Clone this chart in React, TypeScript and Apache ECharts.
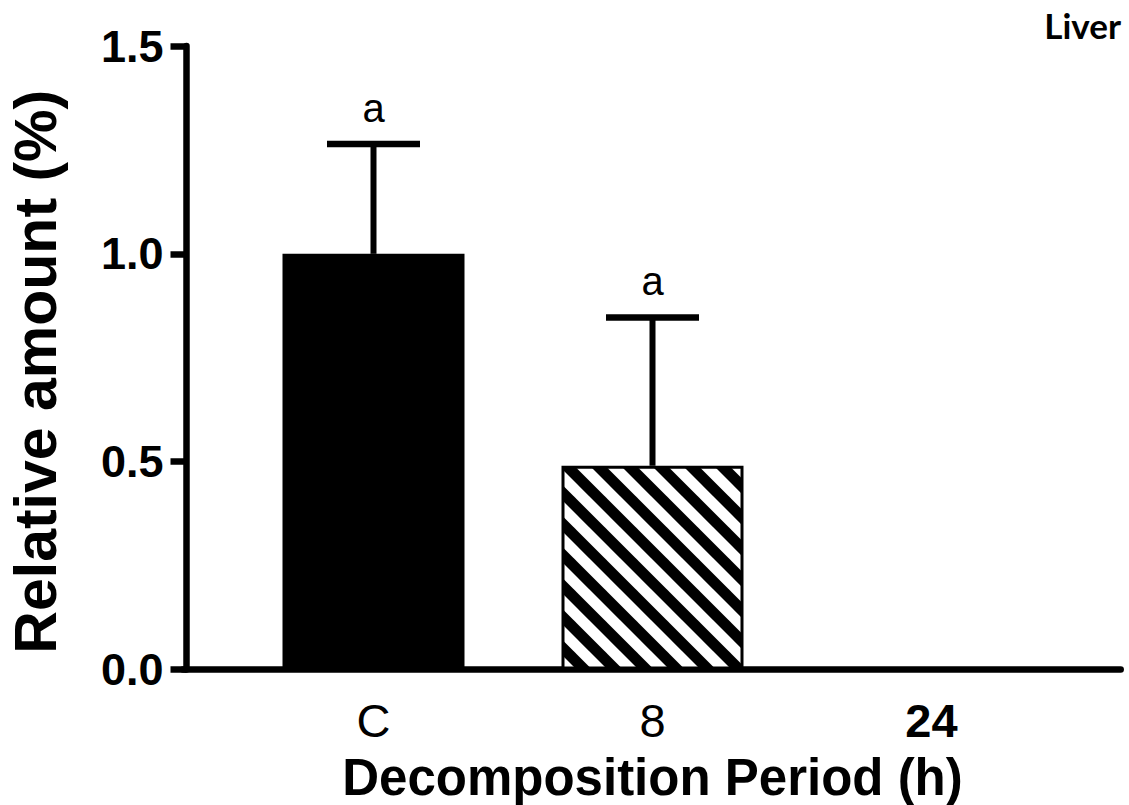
import React, { useEffect, useRef } from 'react';
import * as echarts from 'echarts';

// ---- data ----
const categories = ['C', '8', '24'];
const meanValues = [1.0, 0.49, 0];
const sdValues = [0.264, 0.357, 0];
const sigLetters = ['a', 'a', ''];
const yMin = 0;
const yMax = 1.5;
const yInterval = 0.5;

const FONT = 'Liberation Sans, Arial, sans-serif';

function makeHatch(): string {
  const T = 31;
  const c = document.createElement('canvas');
  c.width = T;
  c.height = T;
  const ctx = c.getContext('2d');
  if (!ctx) return '#000';
  ctx.fillStyle = '#000';
  ctx.fillRect(0, 0, T, T);
  ctx.strokeStyle = '#fff';
  ctx.lineWidth = 10.9;
  for (const off of [23.25 - T, 23.25, 23.25 + T]) {
    ctx.beginPath();
    ctx.moveTo(off - 12, -12);
    ctx.lineTo(off + T + 12, T + 12);
    ctx.stroke();
  }
  return c.toDataURL();
}

export default function App() {
  const ref = useRef<HTMLDivElement>(null);

  useEffect(() => {
    if (!ref.current) return;
    const chart = echarts.init(ref.current, null, { renderer: 'svg' });
    const hatch = makeHatch();
    const hatchColor: any = {
      image: hatch,
      repeat: 'repeat',
      imageWidth: 31,
      imageHeight: 31,
    };

    const barData = meanValues.map((v, i) => ({
      value: v,
      itemStyle: {
        color: i === 1 ? hatchColor : '#000',
        borderColor: '#000',
        borderWidth: v === 0 ? 0 : 3,
      },
    }));

    const errData = categories.map((c, i) => [i, meanValues[i], sdValues[i]]);

    const option: any = {
      animation: false,
      backgroundColor: '#fff',
      title: {
        text: 'Liver',
        right: 8,
        top: 7,
        padding: 0,
        textStyle: {
          fontFamily: 'Lato, Open Sans, sans-serif',
          fontWeight: 'bold',
          fontSize: 35,
          color: '#000',
        },
      },
      grid: [
        {
          left: 234,
          width: 837,
          top: 46,
          bottom: 135.5,
          containLabel: false,
          outerBoundsMode: 'none',
        },
        {
          left: 183,
          right: 8.3,
          top: 46,
          bottom: 135.5,
          containLabel: false,
          outerBoundsMode: 'none',
        },
      ],
      xAxis: [
        {
          type: 'category',
          gridIndex: 0,
          data: categories,
          axisLine: { show: false },
          axisTick: { show: false },
          splitLine: { show: false },
          axisLabel: {
            margin: 27,
            interval: 0,
            formatter: (v: string) => (v === '24' ? '{b|' + v + '}' : '{n|' + v + '}'),
            rich: {
              n: { fontFamily: FONT, fontSize: 47, fontWeight: 'normal', color: '#000' },
              b: { fontFamily: FONT, fontSize: 47, fontWeight: 'bold', color: '#000' },
            },
          },
          name: 'Decomposition Period (h)',
          nameLocation: 'middle',
          nameGap: 82,
          nameTextStyle: {
            fontFamily: FONT,
            fontSize: 51,
            fontWeight: 'bold',
            color: '#000',
          },
        },
        {
          type: 'value',
          gridIndex: 1,
          min: 0,
          max: 1,
          axisLine: { show: true, onZero: false, lineStyle: { color: '#000', width: 6.5 } },
          axisTick: { show: false },
          axisLabel: { show: false },
          splitLine: { show: false },
        },
      ],
      yAxis: [
        {
          type: 'value',
          gridIndex: 0,
          min: yMin,
          max: yMax,
          interval: yInterval,
          offset: 47.5,
          axisLine: { show: true, lineStyle: { color: '#000', width: 6.5 } },
          axisTick: { show: true, length: 16, lineStyle: { color: '#000', width: 6.5 } },
          splitLine: { show: false },
          axisLabel: {
            margin: 23,
            fontFamily: FONT,
            fontSize: 45,
            fontWeight: 'bold',
            color: '#000',
            formatter: (v: number) => v.toFixed(1),
          },
          name: 'Relative amount (%)',
          nameLocation: 'middle',
          nameGap: 121,
          nameMoveOverlap: false,
          nameTextStyle: {
            fontFamily: FONT,
            fontSize: 59,
            fontWeight: 'bold',
            color: '#000',
            padding: [0, 28, 0, 0],
          },
        },
        {
          type: 'value',
          gridIndex: 1,
          min: yMin,
          max: yMax,
          show: false,
        },
      ],
      series: [
        {
          type: 'bar',
          xAxisIndex: 0,
          yAxisIndex: 0,
          data: barData,
          barWidth: 182,
          z: 2,
        },
        {
          type: 'custom',
          xAxisIndex: 0,
          yAxisIndex: 0,
          data: errData,
          z: 3,
          renderItem: (params: any, api: any) => {
            const idx = api.value(0);
            const m = api.value(1);
            const s = api.value(2);
            if (!s) return null;
            const base = api.coord([idx, m]);
            const top = api.coord([idx, m + s]);
            const band = api.size([1, 0])[0];
            const half = band / 6;
            const letter = sigLetters[params.dataIndex] || '';
            return {
              type: 'group',
              children: [
                {
                  type: 'line',
                  shape: { x1: base[0], y1: base[1], x2: top[0], y2: top[1] },
                  style: { stroke: '#000', lineWidth: 6 },
                },
                {
                  type: 'line',
                  shape: { x1: top[0] - half, y1: top[1], x2: top[0] + half, y2: top[1] },
                  style: { stroke: '#000', lineWidth: 6.5 },
                },
                {
                  type: 'text',
                  x: top[0],
                  y: top[1] - 36,
                  style: {
                    text: letter,
                    fill: '#000',
                    fontFamily: FONT,
                    fontSize: 40,
                    fontWeight: 'normal',
                    textAlign: 'center',
                    textVerticalAlign: 'middle',
                  },
                },
              ],
            };
          },
        },
      ],
    };

    chart.setOption(option);
    return () => {
      chart.dispose();
    };
  }, []);

  return (
    <div
      ref={ref}
      style={{ position: 'fixed', left: 0, top: 0, width: 1129, height: 805, background: '#fff' }}
    />
  );
}
